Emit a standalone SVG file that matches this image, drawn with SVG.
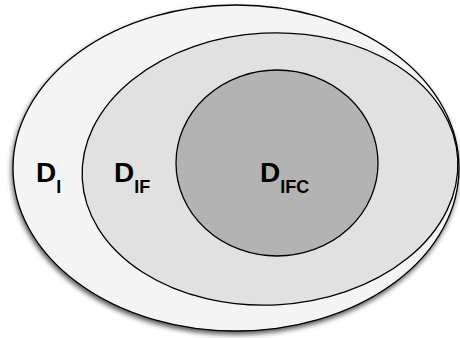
<svg xmlns="http://www.w3.org/2000/svg" width="460" height="338" viewBox="0 0 460 338">
<defs>
<filter id="sh" x="-10%" y="-10%" width="120%" height="125%">
<feDropShadow dx="-1" dy="3" stdDeviation="2.5" flood-color="#000" flood-opacity="0.65"/>
</filter>
<style>
.s{stroke:#000;stroke-width:1.3}
.t{font-family:"Liberation Sans",Arial,sans-serif;font-weight:bold;fill:#000}
.m{font-size:28px}
.b{font-size:18px}
</style>
</defs>
<rect width="460" height="338" fill="#fff"/>
<g id="outer">
<ellipse cx="236" cy="168" rx="223" ry="163" fill="#f4f4f4" class="s" filter="url(#sh)"/>
<text class="t m" x="36" y="182">D<tspan class="b" dy="11">I</tspan></text>
</g>
<g id="middle">
<ellipse cx="270" cy="169" rx="188" ry="136" transform="rotate(-3 270 169)" fill="#e1e1e1" class="s"/>
<text class="t m" x="114" y="182">D<tspan class="b" dy="11">IF</tspan></text>
</g>
<g id="inner">
<ellipse cx="277" cy="163" rx="101" ry="93" fill="#b3b3b3" class="s"/>
<text class="t m" x="260" y="182">D<tspan class="b" dy="11">IFC</tspan></text>
</g>
<g id="connectors"/>
</svg>
